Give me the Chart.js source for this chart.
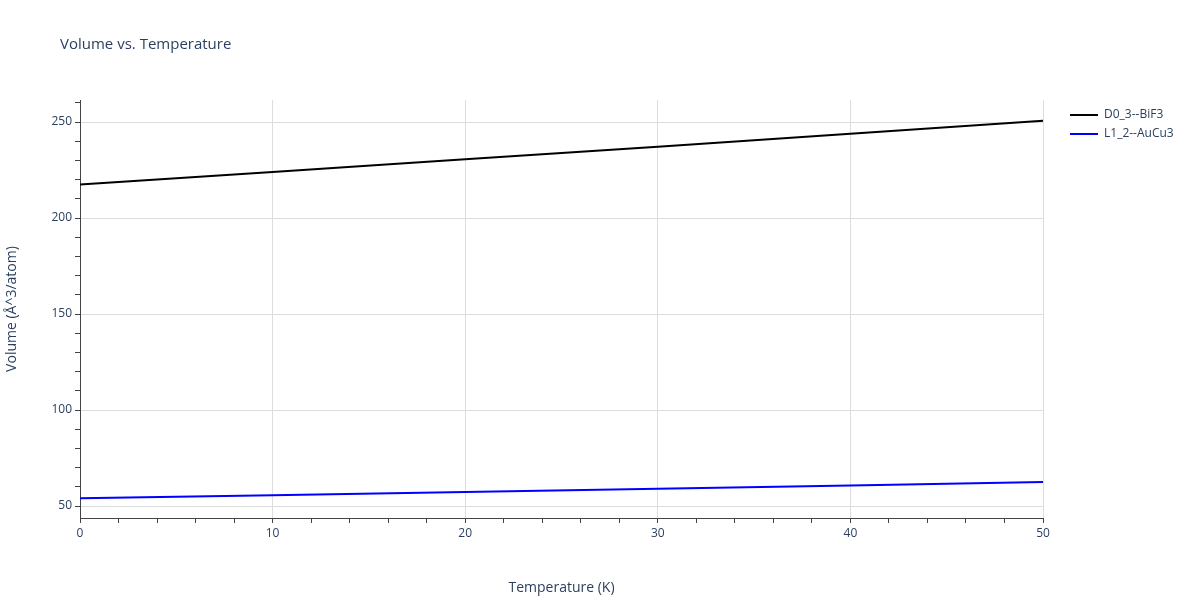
<!DOCTYPE html><html><head><script src="https://cdn.jsdelivr.net/npm/chart.js@4"></script>
<style>body{margin:0}#w{width:1200px;height:600px}</style></head><body><div id="w"><canvas id="c"></canvas></div>
<script>
const temps=[0,10,20,30,40,50];
const bif3=[217.5,224.0,230.6,237.2,243.9,250.7];
const aucu3=[54.0,55.6,57.3,59.0,60.7,62.5];
const seriesNames=['D0_3--BiF3','L1_2--AuCu3'];
const colors=['#000000','#0000ff'];
const font='"Open Sans", sans-serif';
const deco={id:'deco',afterDraw(ch){const x=ch.ctx;x.save();x.font='15px '+font;x.fillStyle='#2a3f5f';x.textBaseline='middle';x.fillText('Volume vs. Temperature',60,45);
x.font='12px '+font;seriesNames.forEach((n,i)=>{const y=115+i*19;x.strokeStyle=colors[i];x.lineWidth=2;x.beginPath();x.moveTo(1070,y);x.lineTo(1098,y);x.stroke();x.fillStyle='#2a3f5f';x.fillText(n,1104,y);});x.restore();}};
new Chart(document.getElementById('c'),{type:'line',data:{datasets:[bif3,aucu3].map((d,i)=>({label:seriesNames[i],data:temps.map((t,j)=>({x:t,y:d[j]})),borderColor:colors[i],borderWidth:2,pointRadius:0,tension:0}))},
options:{responsive:true,maintainAspectRatio:false,animation:false,layout:{padding:{top:100,right:157,left:0,bottom:0}},plugins:{legend:{display:false},tooltip:{enabled:false}},
scales:{x:{type:'linear',min:0,max:50,afterFit(s){s.height=82;},ticks:{stepSize:2,autoSkip:false,maxRotation:0,color:'#2a3f5f',font:{family:font,size:12},callback:v=>v%10===0?v:''},
grid:{color:c=>c.tick&&c.tick.value%10===0?'#dddddd':'rgba(0,0,0,0)',tickColor:'#444',tickLength:5,drawTicks:true},border:{color:'#444',width:1},
title:{display:true,text:'Temperature (K)',color:'#2a3f5f',font:{family:font,size:14},padding:{top:10}}},
y:{min:43.75,max:261.5,afterFit(s){s.width=80;},afterBuildTicks(s){s.ticks=[];for(let v=50;v<=260;v+=10)s.ticks.push({value:v});},ticks:{autoSkip:false,color:'#2a3f5f',font:{family:font,size:12},callback:v=>v%50===0?v:''},
grid:{color:c=>c.tick&&c.tick.value%50===0?'#dddddd':'rgba(0,0,0,0)',tickColor:'#444',tickLength:5},border:{color:'#444',width:1},
title:{display:true,text:'Volume (Å^3/atom)',color:'#2a3f5f',font:{family:font,size:14}}}}},plugins:[deco]});
</script></body></html>
